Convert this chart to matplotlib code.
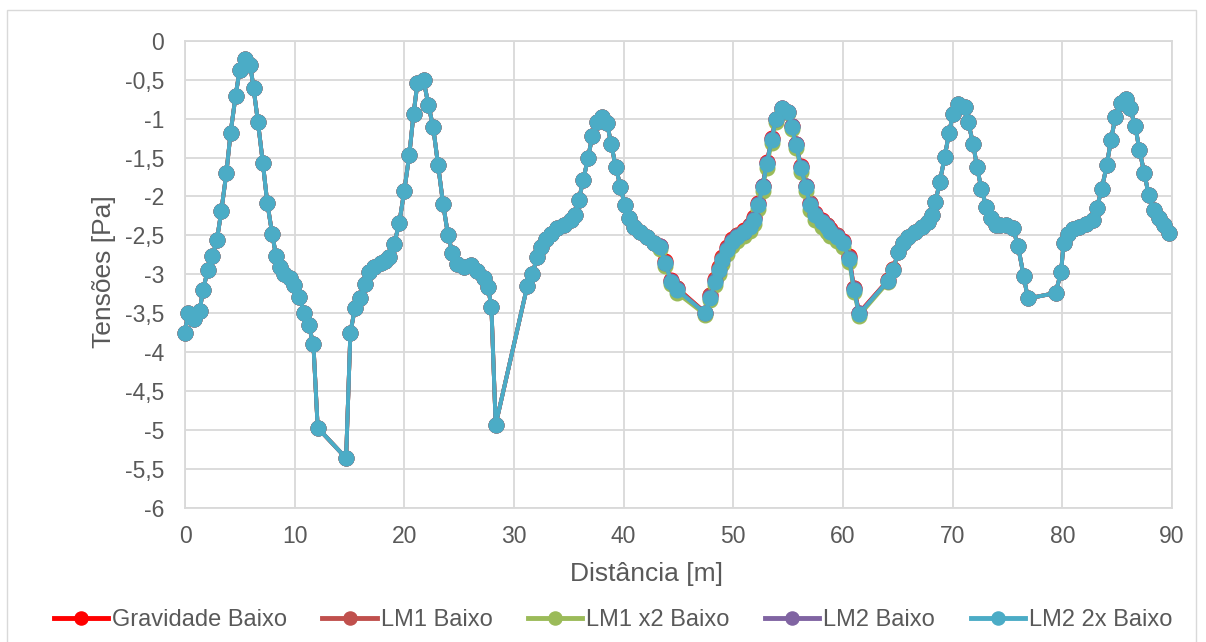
import matplotlib
matplotlib.use("Agg")
import matplotlib.pyplot as plt
from matplotlib.patches import Rectangle
from matplotlib.ticker import FuncFormatter, MultipleLocator

# Distância [m] e tensões [Pa] — trecho comum a todas as séries (0 a 43 m)
dist_inicio = [0, 0.27, 0.79, 1.34, 1.64, 2.09, 2.49, 2.91, 3.31, 3.77, 4.16, 4.61, 4.98,
               5.43, 5.95, 6.25, 6.65, 7.1, 7.5, 7.95, 8.31, 8.62, 9.07, 9.53, 9.98, 10.44,
               10.89, 11.28, 11.71, 12.1, 14.69, 15.08, 15.5, 15.99, 16.41, 16.8, 17.26,
               17.87, 18.25, 18.63, 19.08, 19.54, 19.99, 20.45, 20.84, 21.2, 21.75, 22.2,
               22.63, 23.08, 23.54, 23.99, 24.39, 24.84, 25.45, 26.12, 26.66, 27.27, 27.63,
               27.94, 28.33, 31.21, 31.67, 32.12, 32.49, 32.88, 33.34, 33.94, 34.55, 35.16,
               35.52, 35.91, 36.31, 36.76, 37.13, 37.58, 38.03, 38.49, 38.85, 39.28, 39.71,
               40.1, 40.46, 40.92, 41.53, 42.13, 42.74]
tensao_inicio = [-3.75, -3.50, -3.57, -3.47, -3.20, -2.94, -2.77, -2.56, -2.19, -1.70, -1.18,
                 -0.71, -0.38, -0.23, -0.31, -0.61, -1.04, -1.57, -2.08, -2.48, -2.77, -2.90,
                 -2.99, -3.05, -3.14, -3.29, -3.50, -3.65, -3.90, -4.97, -5.36, -3.75, -3.43,
                 -3.31, -3.13, -2.97, -2.90, -2.86, -2.83, -2.78, -2.61, -2.34, -1.93, -1.47,
                 -0.94, -0.54, -0.50, -0.83, -1.11, -1.60, -2.10, -2.50, -2.73, -2.87, -2.90,
                 -2.88, -2.96, -3.05, -3.16, -3.42, -4.93, -3.15, -2.99, -2.78, -2.65, -2.54,
                 -2.48, -2.41, -2.37, -2.30, -2.24, -2.05, -1.79, -1.50, -1.23, -1.04, -0.98,
                 -1.06, -1.32, -1.62, -1.88, -2.11, -2.28, -2.39, -2.45, -2.52, -2.60]

# Trecho 43 a 65 m, onde as séries se afastam um pouco
dist_meio = [43.35, 43.8, 44.35, 44.86, 47.44, 47.9, 48.35, 48.65, 48.95, 49.41, 49.86, 50.32,
             50.93, 51.54, 51.93, 52.29, 52.66, 53.05, 53.5, 53.87, 54.41, 55.02, 55.32, 55.72,
             56.18, 56.6, 57.0, 57.45, 58.05, 58.51, 58.82, 59.42, 60.03, 60.57, 61.0, 61.48,
             64.12, 64.58]
gravidade_meio = [-2.63, -2.83, -3.07, -3.17, -3.49, -3.26, -3.06, -2.91, -2.78, -2.65, -2.55,
                  -2.49, -2.43, -2.36, -2.27, -2.09, -1.86, -1.56, -1.25, -1.00, -0.87, -0.91,
                  -1.09, -1.32, -1.61, -1.86, -2.08, -2.21, -2.30, -2.36, -2.42, -2.49, -2.57,
                  -2.77, -3.17, -3.49, -3.07, -2.93]
lm1_meio = [-2.64, -2.84, -3.08, -3.18, -3.49, -3.27, -3.07, -2.92, -2.79, -2.66, -2.56, -2.50,
            -2.44, -2.37, -2.28, -2.10, -1.87, -1.57, -1.26, -1.00, -0.87, -0.91, -1.10, -1.33,
            -1.62, -1.87, -2.09, -2.22, -2.31, -2.37, -2.43, -2.50, -2.58, -2.78, -3.18, -3.50,
            -3.07, -2.93]
lm1x2_meio = [-2.67, -2.89, -3.13, -3.24, -3.52, -3.33, -3.14, -2.99, -2.87, -2.74, -2.63,
              -2.57, -2.51, -2.44, -2.35, -2.16, -1.93, -1.63, -1.31, -1.04, -0.89, -0.93,
              -1.14, -1.38, -1.68, -1.93, -2.17, -2.30, -2.39, -2.45, -2.51, -2.57, -2.65,
              -2.84, -3.23, -3.53, -3.10, -2.95]
lm2_meio = [-2.64, -2.85, -3.09, -3.19, -3.50, -3.29, -3.09, -2.94, -2.81, -2.68, -2.57, -2.51,
            -2.45, -2.38, -2.29, -2.10, -1.87, -1.57, -1.26, -1.00, -0.87, -0.91, -1.10, -1.33,
            -1.62, -1.87, -2.10, -2.23, -2.32, -2.38, -2.44, -2.51, -2.59, -2.79, -3.19, -3.50,
            -3.08, -2.94]
lm2x2_meio = [-2.65, -2.86, -3.10, -3.20, -3.50, -3.30, -3.10, -2.95, -2.82, -2.69, -2.58,
              -2.52, -2.46, -2.39, -2.30, -2.11, -1.88, -1.58, -1.27, -1.01, -0.87, -0.91,
              -1.11, -1.34, -1.63, -1.88, -2.11, -2.24, -2.33, -2.39, -2.45, -2.52, -2.60,
              -2.80, -3.20, -3.51, -3.08, -2.94]

# Trecho final comum (65 a 90 m)
dist_fim = [65.03, 65.49, 65.94, 66.55, 67.16, 67.76, 68.07, 68.43, 68.83, 69.28, 69.67, 70.04,
            70.49, 71.1, 71.41, 71.86, 72.22, 72.61, 73.07, 73.52, 73.98, 74.29, 74.89, 75.5,
            75.95, 76.47, 76.86, 79.38, 79.89, 80.11, 80.5, 80.96, 81.56, 82.17, 82.78, 83.14,
            83.6, 84.05, 84.44, 84.84, 85.35, 85.81, 86.17, 86.66, 87.02, 87.48, 87.87, 88.32,
            88.84, 89.3, 89.75]
tensao_fim = [-2.71, -2.60, -2.52, -2.45, -2.39, -2.33, -2.24, -2.07, -1.81, -1.49, -1.18,
              -0.94, -0.81, -0.85, -1.04, -1.32, -1.62, -1.90, -2.13, -2.28, -2.37, -2.36,
              -2.37, -2.41, -2.63, -3.02, -3.31, -3.24, -2.97, -2.60, -2.48, -2.42, -2.39,
              -2.35, -2.30, -2.15, -1.90, -1.60, -1.27, -0.98, -0.80, -0.75, -0.87, -1.10,
              -1.40, -1.70, -1.98, -2.18, -2.28, -2.37, -2.47]

series = ["Gravidade Baixo", "LM1 Baixo", "LM1 x2 Baixo", "LM2 Baixo", "LM2 2x Baixo"]
trechos_meio = [gravidade_meio, lm1_meio, lm1x2_meio, lm2_meio, lm2x2_meio]
cores = ["#FF0000", "#C0504D", "#9BBB59", "#8064A2", "#4BACC6"]

plt.rcParams["font.family"] = ["Liberation Sans", "DejaVu Sans"]
texto = "#595959"
grade = "#D9D9D9"

fig = plt.figure(figsize=(12.06, 6.42), dpi=100)
ax = fig.add_axes([185 / 1206, 1 - 508 / 642, (1172 - 185) / 1206, (508 - 40.7) / 642])

distancia = dist_inicio + dist_meio + dist_fim
for nome, meio, cor in zip(series, trechos_meio, cores):
    tensao = tensao_inicio + meio + tensao_fim
    ax.plot(distancia, tensao, color=cor, lw=2.8, marker="o", markersize=10.5,
            markeredgecolor=cor, label=nome, clip_on=False, zorder=3)

ax.set_xlim(0, 90)
ax.set_ylim(-6, 0)
ax.xaxis.set_major_locator(MultipleLocator(10))
ax.yaxis.set_major_locator(MultipleLocator(0.5))
ax.yaxis.set_major_formatter(FuncFormatter(lambda v, p: f"{v:g}".replace(".", ",")))
ax.grid(True, color=grade, lw=1.3, zorder=0)
ax.set_axisbelow(True)
for s in ax.spines.values():
    s.set_color(grade)
    s.set_linewidth(1.3)
ax.tick_params(length=0, labelsize=16.5, colors=texto)
ax.tick_params(axis="x", pad=12)
ax.tick_params(axis="y", pad=15)

ax.set_xlabel("Distância [m]", fontsize=19, color=texto)
ax.set_ylabel("Tensões [Pa]", fontsize=19, color=texto)
ax.xaxis.set_label_coords((647 - 185) / 987, (508 - 562) / 467.3)
ax.yaxis.set_label_coords((116 - 185) / 987, (508 - 272) / 467.3)

leg = fig.legend(loc="center", bbox_to_anchor=(613 / 1206, 1 - 620 / 642), ncol=5,
                 frameon=False, fontsize=17, handlelength=2.3, handletextpad=0.17,
                 columnspacing=1.5, numpoints=1, markerscale=0.9)
for t in leg.get_texts():
    t.set_color(texto)
for h in leg.legend_handles:
    h.set_linewidth(3.5)

# Moldura da área do gráfico
fig.patches.append(Rectangle((7 / 1206, -0.05), (1196 - 7) / 1206, 1.05 - 10 / 642,
                             transform=fig.transFigure, fill=False, edgecolor=grade, lw=1))

fig.savefig("out.png", dpi=100)
